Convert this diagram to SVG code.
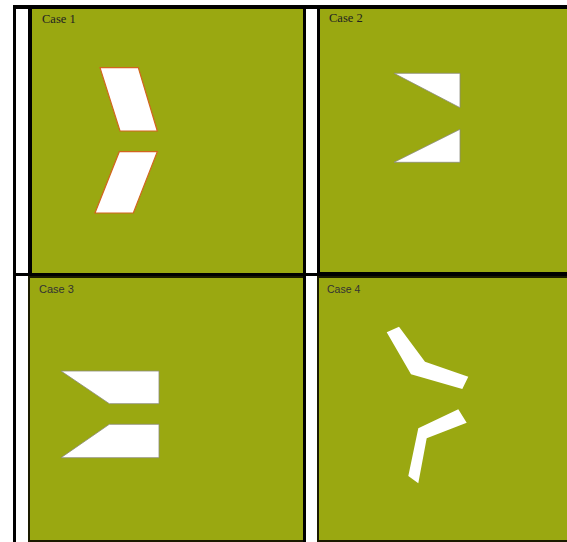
<svg xmlns="http://www.w3.org/2000/svg" width="567" height="542" viewBox="0 0 567 542">
<style>
.bg{fill:#9aa811}
.line{fill:#000}
.serif{font-family:"Liberation Serif","Times New Roman",serif;font-size:12.5px;fill:#222}
.sans{font-family:"Liberation Sans",Arial,sans-serif;font-size:11px;fill:#333}
.s1{fill:#fff;stroke:#d2651e;stroke-width:1.2}
.s2{fill:#fff;stroke:#8a8a7a;stroke-width:0.8}
.s4{fill:#fff}
</style>
<rect width="567" height="542" fill="#fff"/>
<g id="table">
<rect class="line" x="13" y="5" width="3" height="537"/>
<rect class="line" x="13" y="5" width="554" height="4"/>
<rect class="line" x="13" y="273" width="554" height="3"/>
<rect class="line" x="303" y="5" width="3" height="537"/>
</g>
<g id="case1">
<rect class="line" x="28" y="5" width="278" height="271"/>
<rect class="bg" x="32" y="9" width="271" height="264"/>
<text class="serif" x="42" y="23">Case 1</text>
<polygon class="s1" points="100,67.7 138.3,67.7 157.3,131 120,131"/>
<polygon class="s1" points="119.3,151.7 157.3,151.7 133.3,213 95,213"/>
</g>
<g id="case2">
<rect class="line" x="317" y="5" width="250" height="271"/>
<rect class="bg" x="320" y="9" width="247" height="263"/>
<text class="serif" x="329" y="22">Case 2</text>
<polygon class="s2" points="394,73.3 460,73.3 460,107.7"/>
<polygon class="s2" points="460,129.3 460,162.3 394,162.3"/>
</g>
<g id="case3">
<rect x="28" y="276" width="275" height="266" fill="#1a1a00"/>
<rect class="bg" x="30" y="278" width="273" height="262"/>
<text class="sans" x="39" y="293">Case 3</text>
<polygon class="s2" points="61,371 159,371 159,403.7 109.3,403.7"/>
<polygon class="s2" points="109.3,424.3 159,424.3 159,457.7 61,457.7"/>
</g>
<g id="case4">
<rect x="317" y="276" width="250" height="266" fill="#1a1a00"/>
<rect class="bg" x="319" y="278" width="248" height="262"/>
<text class="sans" x="327" y="293" style="font-size:10.5px">Case 4</text>
<polygon class="s4" points="386.7,332.3 399,326.7 425,361.7 468.3,376.7 462.3,389 411,374.3"/>
<polygon class="s4" points="458.3,409.3 466.7,422.7 426.7,438.3 418.3,483.3 408.3,476 418.3,428.3"/>
</g>
</svg>
